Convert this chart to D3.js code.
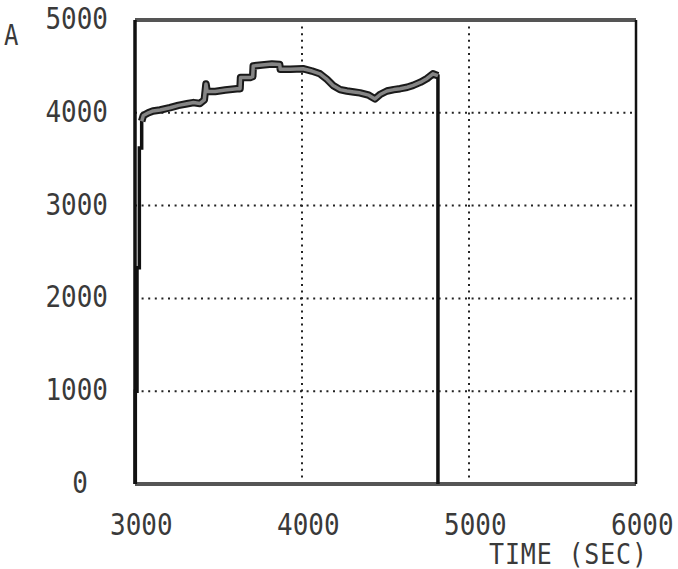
<!DOCTYPE html>
<html>
<head>
<meta charset="utf-8">
<script src="https://cdn.jsdelivr.net/npm/d3@7"></script>
<style>
  html, body { margin: 0; padding: 0; background: #fff; }
  svg text { font-family: "DejaVu Sans Mono", "Liberation Mono", monospace; fill: #3a3a3a; }
</style>
</head>
<body>
<svg id="chart" width="678" height="569"></svg>
<script>
// Current trace (A) against time (s)
const timeSec = [3002, 3002, 3012, 3012, 3026, 3026, 3040, 3040, 3050, 3080, 3108, 3150, 3210, 3260, 3311, 3350, 3389, 3415, 3425, 3432, 3480, 3540, 3610, 3629, 3632, 3690, 3705, 3708, 3760, 3820, 3866, 3870, 3930, 4006, 4060, 4108, 4150, 4186, 4228, 4269, 4310, 4347, 4400, 4437, 4470, 4509, 4550, 4587, 4630, 4665, 4710, 4749, 4784, 4814, 4814];
const current = [0, 1000, 1000, 2330, 2330, 3620, 3620, 3910, 3970, 4000, 4020, 4030, 4055, 4080, 4097, 4110, 4100, 4140, 4310, 4230, 4230, 4245, 4260, 4260, 4380, 4380, 4390, 4505, 4515, 4525, 4520, 4470, 4470, 4475, 4450, 4420, 4360, 4295, 4250, 4235, 4225, 4215, 4190, 4150, 4200, 4235, 4250, 4260, 4275, 4295, 4330, 4370, 4420, 4400, 0];

const xTicks = [3000, 4000, 5000, 6000];
const yTicks = [0, 1000, 2000, 3000, 4000, 5000];
const xGrid = [4000, 5000];
const yGrid = [1000, 2000, 3000, 4000];
const yUnit = "A";
const xTitle = "TIME (SEC)";

const svg = d3.select("#chart");
const plotLeft = 135, plotRight = 636, plotTop = 20, plotBottom = 484;
const stretch = 1.15; // plotter lettering is taller than it is wide

const x = d3.scaleLinear().domain([3000, 6000]).range([plotLeft, plotRight]);
const y = d3.scaleLinear().domain([0, 5000]).range([plotBottom, plotTop]);

const pts = timeSec.map((t, i) => [t, current[i]]);

// dotted grid
svg.append("g").selectAll("line").data(yGrid).join("line")
  .attr("x1", plotLeft).attr("x2", plotRight)
  .attr("y1", d => y(d)).attr("y2", d => y(d))
  .attr("stroke", "#222").attr("stroke-width", 2).attr("stroke-dasharray", "2,4.6");
svg.append("g").selectAll("line").data(xGrid).join("line")
  .attr("x1", d => x(d)).attr("x2", d => x(d))
  .attr("y1", plotTop).attr("y2", plotBottom)
  .attr("stroke", "#222").attr("stroke-width", 2).attr("stroke-dasharray", "2,4.6");

// frame
svg.append("line").attr("x1", plotLeft).attr("x2", plotRight).attr("y1", plotTop).attr("y2", plotTop)
  .attr("stroke", "#555").attr("stroke-width", 4);
svg.append("line").attr("x1", plotLeft).attr("x2", plotRight).attr("y1", plotBottom).attr("y2", plotBottom)
  .attr("stroke", "#555").attr("stroke-width", 4);
svg.append("line").attr("x1", plotLeft).attr("x2", plotLeft).attr("y1", plotTop).attr("y2", plotBottom)
  .attr("stroke", "#111").attr("stroke-width", 3.5);
svg.append("line").attr("x1", plotRight).attr("x2", plotRight).attr("y1", plotTop).attr("y2", plotBottom)
  .attr("stroke", "#111").attr("stroke-width", 2.5);

const line = d3.line().x(d => x(d[0])).y(d => y(d[1])).curve(d3.curveLinear);

// whole trace as a solid black line
svg.append("path").datum(pts).attr("d", line)
  .attr("fill", "none").attr("stroke", "#111").attr("stroke-width", 3.5)
  .attr("stroke-linejoin", "miter");

// plateau drawn as a thick grey band with dark edges
const band = pts.slice(7, pts.length - 1);
svg.append("path").datum(band).attr("d", line)
  .attr("fill", "none").attr("stroke", "#1a1a1a").attr("stroke-width", 7.5)
  .attr("stroke-linejoin", "round");
svg.append("path").datum(band).attr("d", line)
  .attr("fill", "none").attr("stroke", "#858585").attr("stroke-width", 3.5)
  .attr("stroke-linejoin", "round");

function label(sel, px, py) {
  return sel.attr("transform", (d, i) => `translate(${px(d, i)},${py(d, i)}) scale(1,${stretch})`);
}

// y tick labels
label(svg.append("g").selectAll("text").data(yTicks).join("text"),
      d => d === 0 ? 80 : 108, d => y(d) + 9)
  .attr("text-anchor", d => d === 0 ? "middle" : "end")
  .attr("font-size", 26)
  .text(d => d);

// x tick labels
label(svg.append("g").selectAll("text").data(xTicks).join("text"),
      d => x(d) - 25, () => 535)
  .attr("text-anchor", "start")
  .attr("font-size", 26)
  .text(d => d);

label(svg.append("g").selectAll("text").data([xTitle]).join("text"), () => 489, () => 564)
  .attr("font-size", 25).attr("textLength", 158).text(d => d);
label(svg.append("g").selectAll("text").data([yUnit]).join("text"), () => 4, () => 45)
  .attr("font-size", 24).text(d => d);
</script>
</body>
</html>
